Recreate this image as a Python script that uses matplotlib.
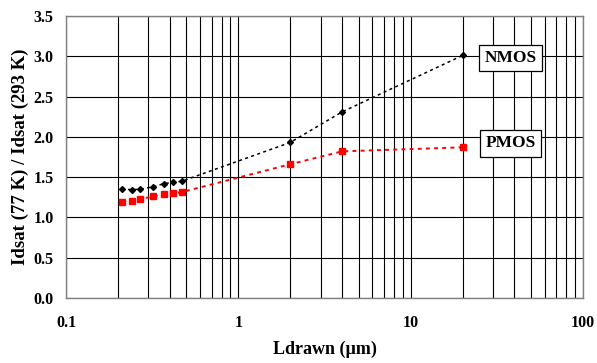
import matplotlib
matplotlib.use("Agg")
import matplotlib.pyplot as plt
from matplotlib.ticker import FixedLocator, LogLocator, NullFormatter

# data
nmos_l = [0.21, 0.24, 0.27, 0.32, 0.37, 0.42, 0.47, 2.0, 4.0, 20.0]
nmos_ratio = [1.35, 1.345, 1.35, 1.38, 1.42, 1.435, 1.45, 1.93, 2.31, 3.01]
pmos_l = [0.21, 0.24, 0.27, 0.32, 0.37, 0.42, 0.47, 2.0, 4.0, 20.0]
pmos_ratio = [1.195, 1.21, 1.23, 1.26, 1.29, 1.30, 1.315, 1.66, 1.82, 1.87]
y_ticks = [0.0, 0.5, 1.0, 1.5, 2.0, 2.5, 3.0, 3.5]
x_ticks = [0.1, 1, 10, 100]
x_tick_labels = ["0.1", "1", "10", "100"]

plt.rcParams["font.family"] = ["Liberation Serif", "DejaVu Serif"]
plt.rcParams["font.weight"] = "bold"

fig = plt.figure(figsize=(5.97, 3.63), dpi=100)
ax = fig.add_axes([0.1106, 0.179, 0.866, 0.777])

ax.plot(nmos_l, nmos_ratio, color="black", linestyle=(0, (2, 2.2)),
        linewidth=1.1, marker="D", markersize=3)
ax.plot(pmos_l, pmos_ratio, color="#ff0000", linestyle=(0, (2, 2.2)),
        linewidth=1.4, marker="s", markersize=4.5)

ax.set_xscale("log")
ax.set_xlim(0.1, 100)
ax.set_ylim(0, 3.5)
ax.xaxis.set_major_locator(FixedLocator(x_ticks))
ax.set_xticklabels(x_tick_labels)
ax.xaxis.set_minor_locator(LogLocator(base=10, subs=range(2, 10)))
ax.xaxis.set_minor_formatter(NullFormatter())
ax.set_yticks(y_ticks)
ax.set_yticklabels([f"{v:.1f}" for v in y_ticks])

ax.grid(True, which="both", axis="x", color="black", linewidth=0.8)
ax.grid(True, which="major", axis="y", color="black", linewidth=0.8)
ax.set_axisbelow(True)
for s in ax.spines.values():
    s.set_color("#808080")
    s.set_linewidth(1.0)

ax.tick_params(axis="both", which="both", length=0, labelsize=11.5)
ax.tick_params(axis="x", pad=12)
ax.tick_params(axis="y", pad=9)

ax.set_xlabel("Ldrawn (\u00b5m)", fontsize=13, fontweight="bold", labelpad=7)
ax.set_ylabel("Idsat (77 K) / Idsat (293 K)", fontsize=13.5, fontweight="bold", labelpad=3)

box = dict(boxstyle="square,pad=0.3", facecolor="white", edgecolor="black", linewidth=0.9)
ax.text(38, 2.98, "NMOS", ha="center", va="center", fontsize=12.5,
        fontweight="bold", bbox=box)
ax.text(38, 1.92, "PMOS", ha="center", va="center", fontsize=12.5,
        fontweight="bold", bbox=box)

fig.savefig("out.png", dpi=100)
